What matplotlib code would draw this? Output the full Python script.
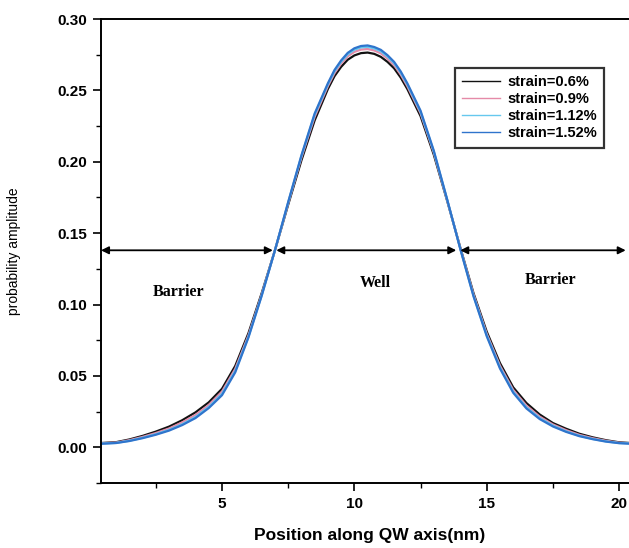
import matplotlib
matplotlib.use("Agg")
import matplotlib.pyplot as plt
from matplotlib.ticker import MultipleLocator

# ---- data ----
x_nm = [0.43, 1.0, 1.5, 2.0, 2.5, 3.0, 3.5, 4.0, 4.5, 5.0, 5.5, 6.0, 6.5, 7.0, 7.5,
        8.0, 8.5, 9.0, 9.25, 9.5, 9.75, 10.0, 10.25, 10.5, 10.75, 11.0, 11.25, 11.5,
        11.75, 12.0, 12.5, 13.0, 13.5, 14.0, 14.5, 15.0, 15.5, 16.0, 16.5, 17.0, 17.5,
        18.0, 18.5, 19.0, 19.5, 20.0, 20.6]

strain_06 = [0.0030, 0.0036, 0.0055, 0.0080, 0.0110, 0.0145, 0.0190, 0.0245, 0.0315,
             0.0410, 0.0570, 0.0800, 0.1080, 0.1380, 0.1700, 0.2010, 0.2290, 0.2510,
             0.2600, 0.2665, 0.2715, 0.2745, 0.2761, 0.2765, 0.2756, 0.2735, 0.2700,
             0.2655, 0.2590, 0.2510, 0.2320, 0.2050, 0.1730, 0.1400, 0.1080, 0.0810,
             0.0590, 0.0420, 0.0310, 0.0230, 0.0170, 0.0130, 0.0095, 0.0070, 0.0050,
             0.0035, 0.0028]
strain_09 = [0.0028, 0.0033, 0.0050, 0.0073, 0.0100, 0.0132, 0.0175, 0.0227, 0.0297,
             0.0390, 0.0550, 0.0785, 0.1070, 0.1380, 0.1710, 0.2030, 0.2315, 0.2530,
             0.2621, 0.2688, 0.2739, 0.2770, 0.2786, 0.2790, 0.2780, 0.2760, 0.2723,
             0.2678, 0.2611, 0.2530, 0.2340, 0.2065, 0.1735, 0.1395, 0.1070, 0.0795,
             0.0572, 0.0402, 0.0292, 0.0215, 0.0160, 0.0120, 0.0087, 0.0064, 0.0046,
             0.0032, 0.0026]
strain_112 = [0.0026, 0.0031, 0.0046, 0.0067, 0.0092, 0.0122, 0.0162, 0.0213, 0.0283,
              0.0375, 0.0535, 0.0775, 0.1065, 0.1380, 0.1715, 0.2040, 0.2330, 0.2542,
              0.2634, 0.2701, 0.2753, 0.2785, 0.2801, 0.2805, 0.2794, 0.2774, 0.2737,
              0.2691, 0.2624, 0.2542, 0.2350, 0.2072, 0.1738, 0.1392, 0.1062, 0.0785,
              0.0560, 0.0390, 0.0280, 0.0205, 0.0152, 0.0112, 0.0081, 0.0059, 0.0042,
              0.0030, 0.0025]
strain_152 = [0.0025, 0.0030, 0.0044, 0.0064, 0.0088, 0.0117, 0.0156, 0.0205, 0.0275,
              0.0365, 0.0525, 0.0770, 0.1062, 0.1380, 0.1718, 0.2045, 0.2338, 0.2550,
              0.2643, 0.2710, 0.2763, 0.2795, 0.2811, 0.2815, 0.2804, 0.2784, 0.2747,
              0.2700, 0.2633, 0.2550, 0.2358, 0.2078, 0.1740, 0.1390, 0.1058, 0.0778,
              0.0552, 0.0382, 0.0272, 0.0198, 0.0146, 0.0108, 0.0078, 0.0057, 0.0040,
              0.0029, 0.0024]

labels = ["strain=0.6%", "strain=0.9%", "strain=1.12%", "strain=1.52%"]
colors = ["#111111", "#e58aa8", "#66c8ee", "#2f74cc"]

region_names = ["Barrier", "Well", "Barrier"]
region_bounds = [(0.43, 6.92), (7.05, 13.85), (14.0, 20.25)]
region_label_pos = [(3.34, 0.1086), (10.78, 0.115), (17.4, 0.117)]
arrow_y = 0.138

# ---- figure ----
fig = plt.figure(figsize=(6.29, 5.48), dpi=100)
ax = fig.add_axes([0.1606, 0.1186, 0.8447, 0.8467])

series = [strain_06, strain_09, strain_112, strain_152]
for ys, lab, c in zip(series, labels, colors):
    ax.plot(x_nm, ys, color=c, lw=1.6, label=lab, solid_joinstyle="round")

for (x0, x1) in region_bounds:
    ax.annotate("", xy=(x0, arrow_y), xytext=(x1, arrow_y),
                arrowprops=dict(arrowstyle="<|-|>", color="black", lw=1.3,
                                mutation_scale=11, shrinkA=0, shrinkB=0))

for name, (tx, ty) in zip(region_names, region_label_pos):
    ax.text(tx, ty, name, ha="center", va="center", fontsize=11.5,
            family="Liberation Serif", fontweight="bold")

ax.set_xlim(0.43, 20.5)
ax.set_ylim(-0.025, 0.30)
ax.xaxis.set_major_locator(MultipleLocator(5))
ax.xaxis.set_minor_locator(MultipleLocator(2.5))
ax.yaxis.set_minor_locator(MultipleLocator(0.025))
ax.set_yticks([0.0, 0.05, 0.10, 0.15, 0.20, 0.25, 0.30])
ax.set_yticklabels(["0.00", "0.05", "0.10", "0.15", "0.20", "0.25", "0.30"])
ax.tick_params(which="major", direction="out", length=6, width=1.2, pad=4)
ax.tick_params(which="minor", direction="out", length=3.5, width=1.0)
ax.tick_params(top=False, right=False)
for lab in ax.get_xticklabels() + ax.get_yticklabels():
    lab.set_family("Liberation Sans")
    lab.set_fontweight("bold")
    lab.set_fontsize(11)
for s in ax.spines.values():
    s.set_linewidth(1.4)

ax.set_xlabel("Position along QW axis(nm)", family="Liberation Sans",
              fontweight="bold", fontsize=12.5)
ax.xaxis.set_label_coords(0.506, -0.097)
ax.set_ylabel("probability amplitude", family="Liberation Sans", fontsize=10)
ax.yaxis.set_label_coords(-0.150, 0.5)

leg = ax.legend(loc="upper left", bbox_to_anchor=(0.666, 0.894), frameon=True,
                fancybox=False, edgecolor="black", handlelength=2.6,
                handletextpad=0.5, borderpad=0.5, labelspacing=0.2,
                borderaxespad=0.0,
                prop={"family": "Liberation Sans", "weight": "bold", "size": 10.5})
leg.get_frame().set_linewidth(1.6)
for h in leg.get_lines():
    h.set_linewidth(1.0)

fig.savefig("out.png", dpi=100)
